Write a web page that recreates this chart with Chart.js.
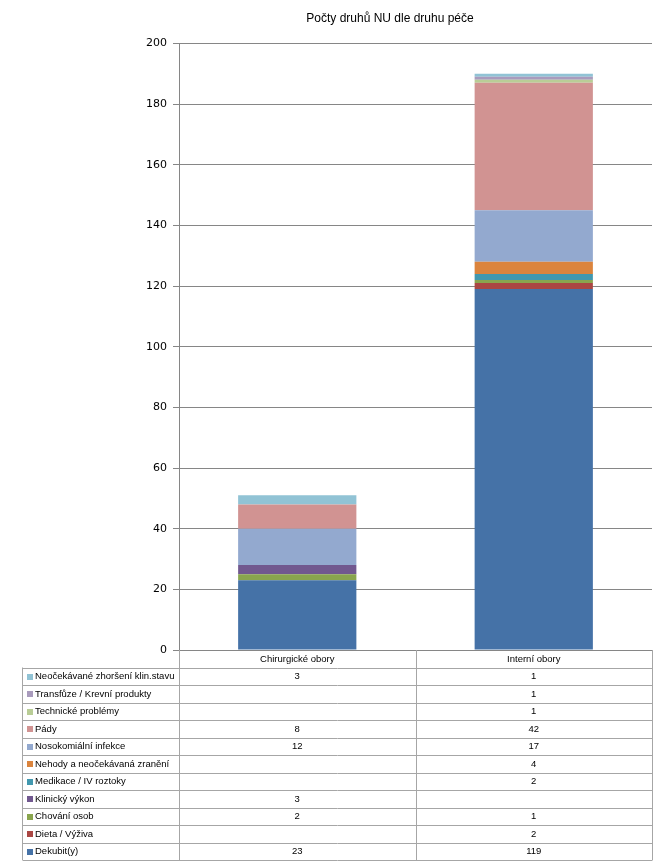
<!DOCTYPE html>
<html lang="cs">
<head>
<meta charset="UTF-8">
<title>Počty druhů NU dle druhu péče</title>
<script src="https://cdn.jsdelivr.net/npm/chart.js"></script>
<style>
    body { margin: 0; background: #fff; }
    #wrap { width: 667px; height: 866px; }
</style>
</head>
<body>
<div id="wrap"><canvas id="nuChart"></canvas></div>
<script>
// kategorie (druhy péče)
const categories = ['Chirurgické obory', 'Interní obory'];

// druhy NU, odspodu nahoru
const seriesNames = [
    'Dekubit(y)',
    'Dieta / Výživa',
    'Chování osob',
    'Klinický výkon',
    'Medikace / IV roztoky',
    'Nehody a neočekávaná zranění',
    'Nosokomiální infekce',
    'Pády',
    'Technické problémy',
    'Transfůze / Krevní produkty',
    'Neočekávané zhoršení klin.stavu'
];

// hodnoty [chirurgické, interní]
const dekubity = [23, 119];
const dieta = [null, 2];
const chovani = [2, 1];
const klinickyVykon = [3, null];
const medikace = [null, 2];
const nehody = [null, 4];
const nosokomialni = [12, 17];
const pady = [8, 42];
const technicke = [null, 1];
const transfuze = [null, 1];
const zhorseni = [3, 1];

const seriesValues = [dekubity, dieta, chovani, klinickyVykon, medikace, nehody,
    nosokomialni, pady, technicke, transfuze, zhorseni];

const seriesColors = ['#4572A7', '#AA4643', '#89A54E', '#71588F', '#4198AF', '#DB843D',
    '#93A9CF', '#D19392', '#B9CD96', '#A99BBD', '#91C3D5'];

const yTicks = [0, 20, 40, 60, 80, 100, 120, 140, 160, 180, 200];

const gridColor = '#868686';
const tableColor = '#a6a6a6';
const tableFont = '9.5px "Liberation Sans", Arial, sans-serif';

// tabulka dat pod grafem
const dataTablePlugin = {
    id: 'dataTable',
    afterDraw(chart) {
        const ctx = chart.ctx;
        const area = chart.chartArea;
        const xs = chart.scales.x;
        const tableLeft = 22.5;
        const headerTop = area.bottom;
        const rowsTop = 667.5;
        const rowH = 17.5;
        const n = seriesNames.length;
        const bottom = rowsTop + rowH * n;
        const colCenters = categories.map((c, i) => xs.getPixelForValue(i));
        const divider = Math.round((colCenters[0] + colCenters[1]) / 2) + 0.5;
        const left = Math.round(area.left) + 0.5;
        const right = Math.round(area.right) + 0.5;

        ctx.save();
        ctx.strokeStyle = tableColor;
        ctx.lineWidth = 1;
        ctx.beginPath();
        // svislé čáry
        ctx.moveTo(left, headerTop); ctx.lineTo(left, bottom);
        ctx.moveTo(divider, headerTop); ctx.lineTo(divider, bottom);
        ctx.moveTo(right, headerTop); ctx.lineTo(right, bottom);
        ctx.moveTo(tableLeft, rowsTop); ctx.lineTo(tableLeft, bottom);
        // vodorovné čáry
        for (let r = 0; r <= n; r++) {
            const y = Math.round(rowsTop + r * rowH) + 0.5;
            ctx.moveTo(tableLeft, y); ctx.lineTo(right, y);
        }
        ctx.stroke();

        ctx.font = tableFont;
        ctx.fillStyle = '#000';
        ctx.textBaseline = 'middle';
        ctx.textAlign = 'center';
        categories.forEach((c, i) => {
            ctx.fillText(c, colCenters[i], (headerTop + rowsTop) / 2 + 1);
        });

        // řádky odshora: poslední série nahoře
        for (let r = 0; r < n; r++) {
            const s = n - 1 - r;
            const yMid = rowsTop + r * rowH + rowH / 2 + 0.5;
            ctx.fillStyle = seriesColors[s];
            ctx.fillRect(27, Math.round(yMid - 3), 6, 6);
            ctx.fillStyle = '#000';
            ctx.textAlign = 'left';
            ctx.fillText(seriesNames[s], 35, yMid);
            ctx.textAlign = 'center';
            seriesValues[s].forEach((v, i) => {
                if (v !== null) ctx.fillText(String(v), colCenters[i], yMid);
            });
        }
        ctx.restore();
    }
};

const datasets = seriesNames.map((name, i) => ({
    label: name,
    data: seriesValues[i],
    backgroundColor: seriesColors[i],
    borderWidth: 0,
    barPercentage: 0.5,
    categoryPercentage: 1.0
}));

new Chart(document.getElementById('nuChart'), {
    type: 'bar',
    data: { labels: categories, datasets: datasets },
    options: {
        responsive: true,
        maintainAspectRatio: false,
        animation: false,
        layout: { padding: { left: 128, right: 15, top: 0, bottom: 216 } },
        plugins: {
            legend: { display: false },
            tooltip: { enabled: false },
            title: {
                display: true,
                text: 'Počty druhů NU dle druhu péče',
                color: '#000',
                font: { family: '"Liberation Sans", Arial, sans-serif', size: 12, weight: 'normal' },
                padding: { top: 11, bottom: 18 }
            }
        },
        scales: {
            x: {
                stacked: true,
                display: false
            },
            y: {
                stacked: true,
                min: 0,
                max: 200,
                afterFit(scale) { scale.width = 51; },
                afterBuildTicks(scale) { scale.ticks = yTicks.map(v => ({ value: v })); },
                border: { color: gridColor },
                grid: { color: gridColor, tickLength: 6, drawTicks: true },
                ticks: {
                    color: '#000',
                    padding: 6,
                    font: { family: '"DejaVu Sans", Verdana, sans-serif', size: 11 }
                }
            }
        }
    },
    plugins: [dataTablePlugin]
});
</script>
</body>
</html>
